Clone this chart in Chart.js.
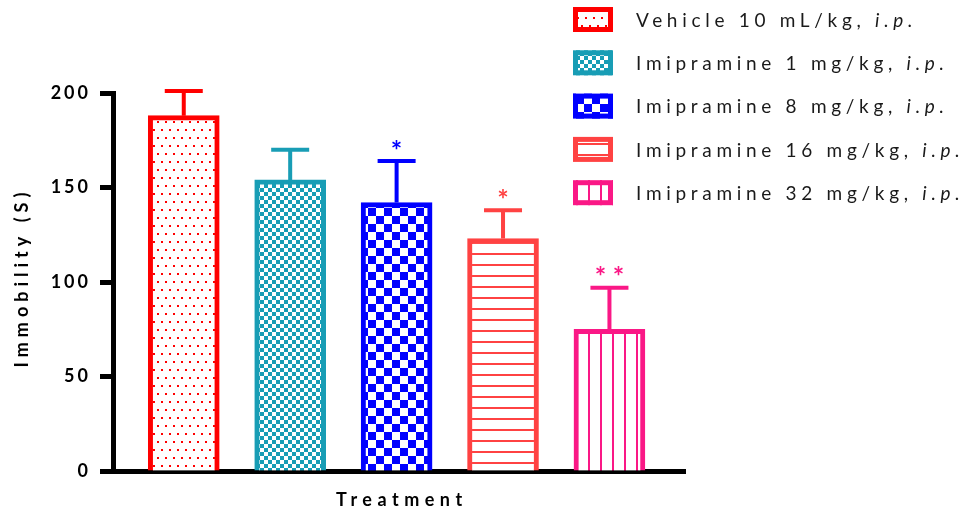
<!DOCTYPE html>
<html>
<head>
<meta charset="utf-8">
<script src="https://cdn.jsdelivr.net/npm/chart.js@4.4.0/dist/chart.umd.min.js"></script>
<style>
  html, body { margin: 0; padding: 0; background: #fff; }
  canvas { display: block; }
</style>
</head>
<body>
<canvas id="myChart" width="976" height="514"></canvas>
<script>
// data
const categories = ['Vehicle 10 mL/kg', 'Imipramine 1 mg/kg', 'Imipramine 8 mg/kg', 'Imipramine 16 mg/kg', 'Imipramine 32 mg/kg'];
const means = [188, 154, 142, 123, 75];
const sems = [13, 16, 22, 15, 22];
const stars = ['', '', '*', '*', '* *'];
const yTicks = [0, 50, 100, 150, 200];
const barColors = ['#ff0000', '#189db5', '#0000ff', '#ff4242', '#fa1886'];
const patternKinds = ['dots', 'smallcheck', 'bigcheck', 'hlines', 'vlines'];

function makePattern(kind, color) {
    var c = document.createElement('canvas');
    var g = c.getContext('2d');
    if (kind === 'dots') { c.width = 8; c.height = 16; }
    else if (kind === 'smallcheck') { c.width = 8; c.height = 8; }
    else if (kind === 'bigcheck') { c.width = 16; c.height = 16; }
    else if (kind === 'hlines') { c.width = 4; c.height = 11; }
    else { c.width = 12; c.height = 4; }
    g.fillStyle = '#fff';
    g.fillRect(0, 0, c.width, c.height);
    g.fillStyle = color;
    if (kind === 'dots') {
        g.fillRect(1, 1, 2, 2);
        g.fillRect(5, 9, 2, 2);
    } else if (kind === 'smallcheck') {
        g.fillRect(0, 0, 4, 4);
        g.fillRect(4, 4, 4, 4);
    } else if (kind === 'bigcheck') {
        g.fillRect(0, 0, 8, 8);
        g.fillRect(8, 8, 8, 8);
    } else if (kind === 'hlines') {
        g.fillRect(0, 0, 4, 2);
    } else {
        g.fillRect(0, 0, 2, 4);
    }
    return g.createPattern(c, 'repeat');
}

const patterns = patternKinds.map((k, i) => makePattern(k, barColors[i]));

// error bars (upward only) and significance stars
const errorBarPlugin = {
    id: 'errorBars',
    afterDatasetsDraw(chart) {
        const ctx = chart.ctx;
        const xs = chart.scales.x, ys = chart.scales.y;
        ctx.save();
        for (let i = 0; i < means.length; i++) {
            const x = xs.getPixelForValue(i);
            const y0 = ys.getPixelForValue(means[i]);
            const y1 = ys.getPixelForValue(means[i] + sems[i]);
            ctx.strokeStyle = barColors[i];
            ctx.lineWidth = 4;
            ctx.beginPath();
            ctx.moveTo(x, y0);
            ctx.lineTo(x, y1);
            ctx.moveTo(x - 19, y1);
            ctx.lineTo(x + 19, y1);
            ctx.stroke();
            if (stars[i]) {
                ctx.fillStyle = barColors[i];
                ctx.font = 'bold 27px Lato';
                ctx.letterSpacing = '0px';
                ctx.textAlign = 'center';
                ctx.textBaseline = 'middle';
                ctx.fillText(stars[i], x, y1 - 10);
            }
        }
        ctx.restore();
    }
};

// axis titles and legend on the right, with the bar patterns
const textPlugin = {
    id: 'sideLegend',
    afterDraw(chart) {
        const ctx = chart.ctx;
        const area = chart.chartArea;
        ctx.save();
        ctx.fillStyle = '#000';
        ctx.font = 'bold 18px Lato';
        ctx.textAlign = 'center';
        ctx.textBaseline = 'middle';
        ctx.letterSpacing = '5.5px';
        ctx.fillText('Treatment', (area.left + area.right) / 2 + 2.75, 500);
        ctx.save();
        ctx.translate(22, (area.top + area.bottom) / 2 - 2);
        ctx.rotate(-Math.PI / 2);
        ctx.letterSpacing = '5px';
        ctx.fillText('Immobility (S)', 2.5, 0);
        ctx.restore();

        for (let i = 0; i < categories.length; i++) {
            const cy = 19.5 + i * 43.3;
            const bx = 573, bw = 40, bh = 25;
            ctx.fillStyle = patterns[i];
            ctx.fillRect(bx, cy - bh / 2, bw, bh);
            ctx.strokeStyle = barColors[i];
            ctx.lineWidth = 5;
            ctx.strokeRect(bx + 2.5, cy - bh / 2 + 2.5, bw - 5, bh - 5);

            ctx.fillStyle = '#1a1a1a';
            ctx.textAlign = 'left';
            ctx.textBaseline = 'middle';
            ctx.letterSpacing = '4.7px';
            ctx.font = '19px Lato';
            const main = categories[i] + ', ';
            ctx.fillText(main, 636, cy + 1);
            const w = ctx.measureText(main).width;
            ctx.font = 'italic 19px Lato';
            ctx.fillText('i.p.', 636 + w, cy + 1);
        }
        ctx.restore();
    }
};

const spacingPlugin = {
    id: 'spacing',
    beforeDraw(chart) { chart.ctx.letterSpacing = '3px'; }
};

const ctx = document.getElementById('myChart');

var barChart = new Chart(ctx, {
    type: 'bar',
    data: {
        datasets: [{
            label: 'Immobility',
            data: means.map((v, i) => ({ x: i, y: v })),
            backgroundColor: patterns,
            borderColor: barColors,
            borderWidth: 5,
            borderSkipped: 'bottom',
            barThickness: 71
        }]
    },
    options: {
        responsive: false,
        animation: false,
        layout: { padding: { left: 0, top: 93, right: 291, bottom: 0 } },
        plugins: {
            legend: { display: false },
            tooltip: { enabled: false }
        },
        scales: {
            x: {
                type: 'linear',
                offset: false,
                min: -0.665,
                max: 4.71,
                ticks: { display: false },
                grid: { display: false, drawTicks: false, offset: false },
                border: { display: true, color: '#000', width: 5 },
                afterFit: function (s) { s.height = 43; }
            },
            y: {
                min: 0,
                max: 200,
                afterBuildTicks: function (s) { s.ticks = yTicks.map(v => ({ value: v })); },
                ticks: {
                    color: '#000',
                    padding: 9,
                    font: { family: 'Lato', weight: 'bold', size: 18 }
                },
                grid: {
                    drawOnChartArea: false, drawTicks: true,
                    tickLength: 13, tickWidth: 5, tickColor: '#000'
                },
                border: { display: true, color: '#000', width: 5 },
                afterFit: function (s) { s.width = 113; }
            }
        }
    },
    plugins: [spacingPlugin, errorBarPlugin, textPlugin]
});
</script>
</body>
</html>
